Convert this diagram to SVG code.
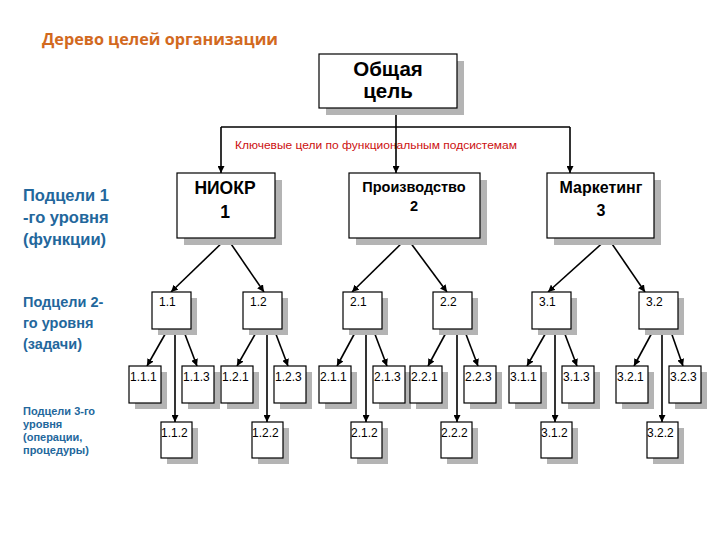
<svg xmlns="http://www.w3.org/2000/svg" width="720" height="540" viewBox="0 0 720 540">
<defs>
<marker id="arr" viewBox="0 0 10 10" refX="10" refY="5" markerWidth="7" markerHeight="7" markerUnits="userSpaceOnUse" orient="auto">
<path d="M0,0 L10,5 L0,10 z" fill="#000"/>
</marker>
<style>
.box{fill:#fff;stroke:#000;stroke-width:1.2}
.sh{fill:#b4b4b4}
.ln{fill:none;stroke:#000;stroke-width:1.6}
.lab{font-family:"Liberation Sans",Arial,sans-serif;fill:#000}
.b{font-weight:bold}
.side{font-family:"Liberation Sans",Arial,sans-serif;font-weight:bold;fill:#23679c}
.s2{font-size:12px}
.s3{font-size:12px}
</style>
</defs>
<rect width="720" height="540" fill="#fff"/>
<text x="42" y="45" font-family="'Open Sans','Liberation Sans',sans-serif" font-weight="bold" font-size="16" fill="#d2691e" textLength="236" lengthAdjust="spacingAndGlyphs">Дерево целей организации</text>

<g id="side-labels">
<text class="side" font-size="16.5"><tspan x="23" y="201">Подцели 1</tspan><tspan x="23" y="223">-го уровня</tspan><tspan x="23" y="245">(функции)</tspan></text>
<text class="side" font-size="14.5"><tspan x="23" y="307">Подцели 2-</tspan><tspan x="23" y="328">го уровня</tspan><tspan x="23" y="349">(задачи)</tspan></text>
<text class="side" font-size="11"><tspan x="23" y="415">Подцели 3-го</tspan><tspan x="23" y="428">уровня</tspan><tspan x="23" y="441">(операции,</tspan><tspan x="23" y="454">процедуры)</tspan></text>
</g>

<text x="376" y="149" text-anchor="middle" font-family="'Liberation Sans',Arial,sans-serif" font-size="10.5" fill="#cc1010" textLength="282" lengthAdjust="spacingAndGlyphs">Ключевые цели по функциональным подсистемам</text>

<g id="connectors">
<path class="ln" d="M396,108 V127"/>
<path class="ln" d="M221,127 H570"/>
<path class="ln" d="M221,127 V173" marker-end="url(#arr)"/>
<path class="ln" d="M396,127 V173" marker-end="url(#arr)"/>
<path class="ln" d="M570,127 V173" marker-end="url(#arr)"/>
<path class="ln" d="M227,238 L171,292" marker-end="url(#arr)"/>
<path class="ln" d="M227,238 L264,292" marker-end="url(#arr)"/>
<path class="ln" d="M407,238 L352,292" marker-end="url(#arr)"/>
<path class="ln" d="M407,238 L447,292" marker-end="url(#arr)"/>
<path class="ln" d="M608,238 L548,292" marker-end="url(#arr)"/>
<path class="ln" d="M608,238 L645,292" marker-end="url(#arr)"/>
<path class="ln" d="M168,329 L147,366" marker-end="url(#arr)"/>
<path class="ln" d="M175,329 V422" marker-end="url(#arr)"/>
<path class="ln" d="M183,329 L197,366" marker-end="url(#arr)"/>
<path class="ln" d="M258,329 L237,366" marker-end="url(#arr)"/>
<path class="ln" d="M267,329 V422" marker-end="url(#arr)"/>
<path class="ln" d="M274,329 L288,366" marker-end="url(#arr)"/>
<path class="ln" d="M357,329 L337,366" marker-end="url(#arr)"/>
<path class="ln" d="M366,329 V422" marker-end="url(#arr)"/>
<path class="ln" d="M373,329 L387,366" marker-end="url(#arr)"/>
<path class="ln" d="M448,329 L428,366" marker-end="url(#arr)"/>
<path class="ln" d="M457,329 V422" marker-end="url(#arr)"/>
<path class="ln" d="M464,329 L478,366" marker-end="url(#arr)"/>
<path class="ln" d="M548,329 L527,366" marker-end="url(#arr)"/>
<path class="ln" d="M555,329 V422" marker-end="url(#arr)"/>
<path class="ln" d="M563,329 L577,366" marker-end="url(#arr)"/>
<path class="ln" d="M654,329 L634,366" marker-end="url(#arr)"/>
<path class="ln" d="M662,329 V422" marker-end="url(#arr)"/>
<path class="ln" d="M670,329 L683,366" marker-end="url(#arr)"/>
</g>

<g id="root">
<rect class="sh" x="326" y="61" width="138" height="54"/>
<rect class="box" x="319" y="54" width="138" height="54"/>
<text class="lab b" font-size="20.5" text-anchor="middle"><tspan x="388" y="76">Общая</tspan><tspan x="388" y="98">цель</tspan></text>
</g>

<g id="n1">
<rect class="sh" x="184" y="180" width="98" height="65"/>
<rect class="box" x="177" y="173" width="98" height="65"/>
<text class="lab b" font-size="17.5" text-anchor="middle"><tspan x="225" y="194">НИОКР</tspan><tspan x="225" y="218">1</tspan></text>
</g>
<g id="n2">
<rect class="sh" x="356" y="180" width="131" height="65"/>
<rect class="box" x="349" y="173" width="131" height="65"/>
<text class="lab b" font-size="14.5" text-anchor="middle"><tspan x="414" y="192">Производство</tspan><tspan x="414" y="211">2</tspan></text>
</g>
<g id="n3">
<rect class="sh" x="554" y="180" width="107" height="65"/>
<rect class="box" x="547" y="173" width="107" height="65"/>
<text class="lab b" font-size="16" text-anchor="middle"><tspan x="601" y="193">Маркетинг</tspan><tspan x="601" y="216">3</tspan></text>
</g>

<g id="n1-1"><rect class="sh" x="158" y="298" width="39" height="37"/><rect class="box" x="152" y="292" width="39" height="37"/><text class="lab s2" x="159" y="306">1.1</text></g>
<g id="n1-2"><rect class="sh" x="249" y="298" width="39" height="37"/><rect class="box" x="243" y="292" width="39" height="37"/><text class="lab s2" x="250" y="306">1.2</text></g>
<g id="n2-1"><rect class="sh" x="349" y="298" width="39" height="37"/><rect class="box" x="343" y="292" width="39" height="37"/><text class="lab s2" x="350" y="306">2.1</text></g>
<g id="n2-2"><rect class="sh" x="439" y="298" width="39" height="37"/><rect class="box" x="433" y="292" width="39" height="37"/><text class="lab s2" x="440" y="306">2.2</text></g>
<g id="n3-1"><rect class="sh" x="538" y="298" width="39" height="37"/><rect class="box" x="532" y="292" width="39" height="37"/><text class="lab s2" x="539" y="306">3.1</text></g>
<g id="n3-2"><rect class="sh" x="645" y="298" width="39" height="37"/><rect class="box" x="639" y="292" width="39" height="37"/><text class="lab s2" x="646" y="306">3.2</text></g>

<g id="n1-1-1"><rect class="sh" x="135" y="372" width="32" height="37"/><rect class="box" x="129" y="366" width="32" height="37"/><text class="lab s3" x="130" y="381">1.1.1</text></g>
<g id="n1-1-3"><rect class="sh" x="188" y="372" width="32" height="37"/><rect class="box" x="182" y="366" width="32" height="37"/><text class="lab s3" x="183" y="381">1.1.3</text></g>
<g id="n1-2-1"><rect class="sh" x="227" y="372" width="32" height="37"/><rect class="box" x="221" y="366" width="32" height="37"/><text class="lab s3" x="222" y="381">1.2.1</text></g>
<g id="n1-2-3"><rect class="sh" x="280" y="372" width="32" height="37"/><rect class="box" x="274" y="366" width="32" height="37"/><text class="lab s3" x="275" y="381">1.2.3</text></g>
<g id="n2-1-1"><rect class="sh" x="325" y="372" width="32" height="37"/><rect class="box" x="319" y="366" width="32" height="37"/><text class="lab s3" x="320" y="381">2.1.1</text></g>
<g id="n2-1-3"><rect class="sh" x="379" y="372" width="32" height="37"/><rect class="box" x="373" y="366" width="32" height="37"/><text class="lab s3" x="374" y="381">2.1.3</text></g>
<g id="n2-2-1"><rect class="sh" x="416" y="372" width="32" height="37"/><rect class="box" x="410" y="366" width="32" height="37"/><text class="lab s3" x="411" y="381">2.2.1</text></g>
<g id="n2-2-3"><rect class="sh" x="470" y="372" width="32" height="37"/><rect class="box" x="464" y="366" width="32" height="37"/><text class="lab s3" x="465" y="381">2.2.3</text></g>
<g id="n3-1-1"><rect class="sh" x="515" y="372" width="32" height="37"/><rect class="box" x="509" y="366" width="32" height="37"/><text class="lab s3" x="510" y="381">3.1.1</text></g>
<g id="n3-1-3"><rect class="sh" x="568" y="372" width="32" height="37"/><rect class="box" x="562" y="366" width="32" height="37"/><text class="lab s3" x="563" y="381">3.1.3</text></g>
<g id="n3-2-1"><rect class="sh" x="622" y="372" width="32" height="37"/><rect class="box" x="616" y="366" width="32" height="37"/><text class="lab s3" x="617" y="381">3.2.1</text></g>
<g id="n3-2-3"><rect class="sh" x="675" y="372" width="32" height="37"/><rect class="box" x="669" y="366" width="32" height="37"/><text class="lab s3" x="670" y="381">3.2.3</text></g>

<g id="n1-1-2"><rect class="sh" x="167" y="428" width="31" height="36"/><rect class="box" x="161" y="422" width="31" height="36"/><text class="lab s3" x="161" y="437">1.1.2</text></g>
<g id="n1-2-2"><rect class="sh" x="258" y="428" width="31" height="36"/><rect class="box" x="252" y="422" width="31" height="36"/><text class="lab s3" x="252" y="437">1.2.2</text></g>
<g id="n2-1-2"><rect class="sh" x="357" y="428" width="31" height="36"/><rect class="box" x="351" y="422" width="31" height="36"/><text class="lab s3" x="351" y="437">2.1.2</text></g>
<g id="n2-2-2"><rect class="sh" x="447" y="428" width="31" height="36"/><rect class="box" x="441" y="422" width="31" height="36"/><text class="lab s3" x="441" y="437">2.2.2</text></g>
<g id="n3-1-2"><rect class="sh" x="547" y="428" width="31" height="36"/><rect class="box" x="541" y="422" width="31" height="36"/><text class="lab s3" x="541" y="437">3.1.2</text></g>
<g id="n3-2-2"><rect class="sh" x="653" y="428" width="31" height="36"/><rect class="box" x="647" y="422" width="31" height="36"/><text class="lab s3" x="647" y="437">3.2.2</text></g>
</svg>
